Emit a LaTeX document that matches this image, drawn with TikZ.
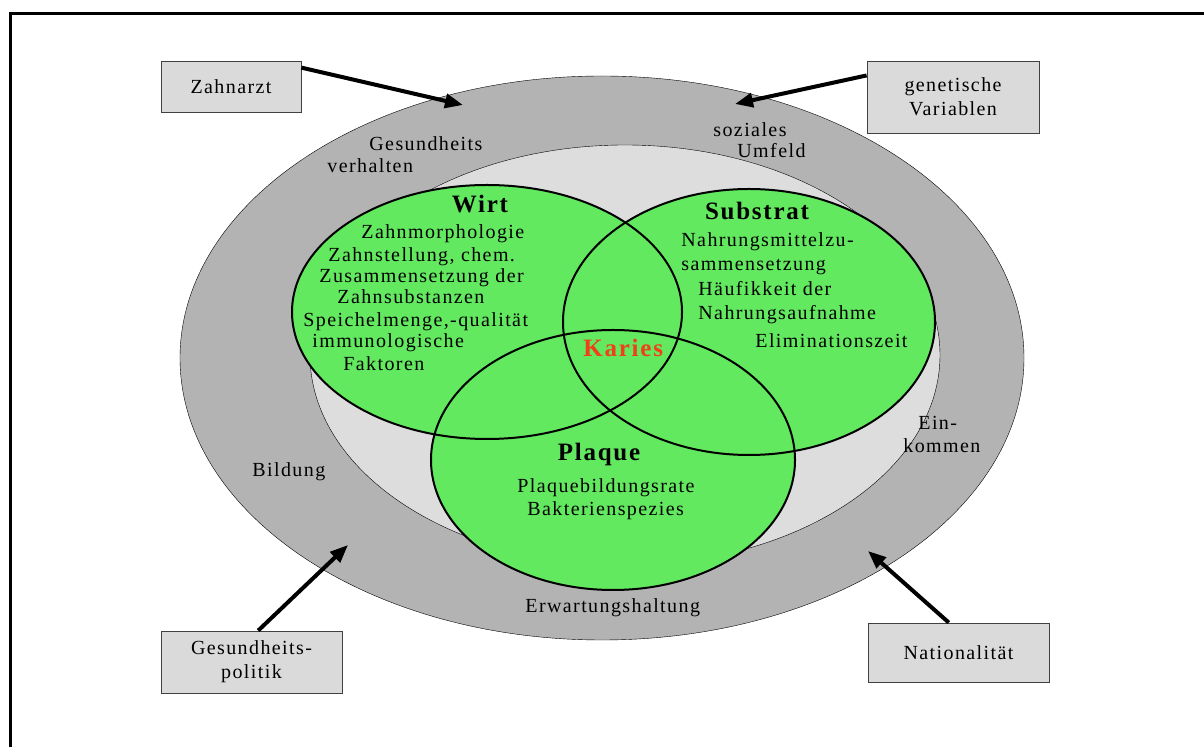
\documentclass[tikz,border=0pt]{standalone}
\usepackage{fontspec}
\setmainfont{Liberation Serif}[LetterSpace=7]
\usepackage{tikz}
\usetikzlibrary{arrows.meta}
\definecolor{band}{RGB}{179,179,179}
\definecolor{core}{RGB}{221,221,221}
\definecolor{venn}{RGB}{99,233,95}
\definecolor{boxgray}{RGB}{218,218,218}
\definecolor{karies}{RGB}{240,64,24}
\tikzset{
    factor-box/.style = {draw=black!75, fill=boxgray, thin, rectangle, inner sep=0pt, align=center, font=\fontsize{10}{12}\selectfont},
    venn-title/.style = {inner sep=0pt, anchor=base, font=\fontsize{12.5}{15}\selectfont\bfseries},
    venn-line/.style = {inner sep=0pt, anchor=base west, font=\fontsize{10}{12}\selectfont},
    push-arrow/.style = {line width=2pt, -{Triangle[length=9pt,width=7pt]}},
}

\begin{document}
\begin{tikzpicture}[x=0.5pt,y=-0.5pt]
\useasboundingbox (0,0) rectangle (1204,747);
\draw[line width=1.5pt] (10.5,747) -- (10.5,13.5) -- (1204,13.5);

% outer band and inner field
\filldraw[fill=band, draw=black, very thin] (602,358) ellipse [x radius=211pt, y radius=141pt];
\filldraw[fill=core, draw=black, very thin] (625,355) ellipse [x radius=157.5pt, y radius=105pt];

% the three circles
\fill[venn] (487,312) ellipse [x radius=97.5pt, y radius=63.5pt];
\fill[venn] (749,322) ellipse [x radius=93pt, y radius=66.5pt];
\fill[venn] (613,460) ellipse [x radius=91pt, y radius=65pt];
\draw[line width=1pt] (487,312) ellipse [x radius=97.5pt, y radius=63.5pt];
\draw[line width=1pt] (749,322) ellipse [x radius=93pt, y radius=66.5pt];
\draw[line width=1pt] (613,460) ellipse [x radius=91pt, y radius=65pt];

% Wirt
\node[venn-title] (wirt) at (480,213) {Wirt};
\node[venn-line] (w1) at (361,239) {Zahnmorphologie};
\node[venn-line] (w2) at (328,262) {Zahnstellung, chem.};
\node[venn-line] (w3) at (319,283) {Zusammensetzung der};
\node[venn-line] (w4) at (337,304) {Zahnsubstanzen};
\node[venn-line] (w5) at (303,327) {Speichelmenge,-qualität};
\node[venn-line] (w6) at (312,348) {immunologische};
\node[venn-line] (w7) at (343,371) {Faktoren};

% Substrat
\node[venn-title] (substrat) at (757,220) {Substrat};
\node[venn-line] (s1) at (681,247) {Nahrungsmittelzu-};
\node[venn-line] (s2) at (681,271) {sammensetzung};
\node[venn-line] (s3) at (698,296) {Häufikkeit der};
\node[venn-line] (s4) at (698,320) {Nahrungsaufnahme};
\node[venn-line] (s5) at (755,348) {Eliminationszeit};

% Plaque
\node[venn-title] (plaque) at (599,461) {Plaque};
\node[venn-line] (p1) at (517,493) {Plaquebildungsrate};
\node[venn-line] (p2) at (527,516) {Bakterienspezies};

\node[venn-title, anchor=base west, text=karies] (karies) at (583,357) {Karies};

% labels in the band
\node[venn-line] (b1) at (369,151) {Gesundheits};
\node[venn-line] (b2) at (327,173) {verhalten};
\node[venn-line] (b3) at (713,137) {soziales};
\node[venn-line] (b4) at (737,158) {Umfeld};
\node[venn-line] (b5) at (252,477) {Bildung};
\node[venn-line] (b6) at (918,430) {Ein-};
\node[venn-line] (b7) at (903,453) {kommen};
\node[venn-line] (b8) at (525,613) {Erwartungshaltung};

% outside factors
\node[factor-box, minimum width=70pt, minimum height=25.5pt] (zahnarzt) at (231,86.5) {Zahnarzt};
\node[factor-box, minimum width=86pt, minimum height=36pt] (genetik) at (953,97) {genetische\\Variablen};
\node[factor-box, minimum width=90.5pt, minimum height=31pt] (politik) at (251.5,662) {Gesundheits-\\politik};
\node[factor-box, minimum width=90.5pt, minimum height=29.5pt] (nation) at (958.5,652.5) {\raisebox{-2pt}{Nationalität}};

\coordinate (zahnarzt-tip) at (463,105);
\coordinate (genetik-tip) at (735,104);
\coordinate (politik-tip) at (348,545);
\coordinate (nation-tip) at (868,551);

\draw[push-arrow] (zahnarzt.15) -- (zahnarzt-tip);
\draw[push-arrow] (genetik.166) -- (genetik-tip);
\draw[push-arrow] (politik.78) -- (politik-tip);
\draw[push-arrow] (nation.108) -- (nation-tip);
\end{tikzpicture}
\end{document}
